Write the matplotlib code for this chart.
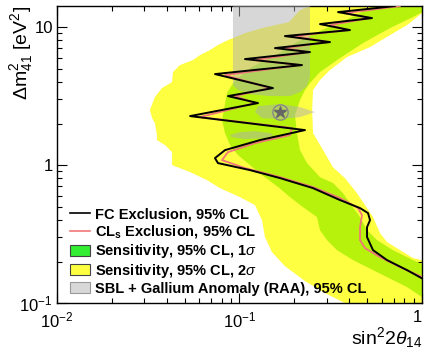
import matplotlib
matplotlib.use("Agg")
import matplotlib.pyplot as plt
from matplotlib.lines import Line2D
from matplotlib.patches import Patch
from matplotlib.ticker import FixedLocator, FixedFormatter, LogLocator, NullFormatter

plt.rcParams["font.family"] = "Liberation Sans"
plt.rcParams["mathtext.fontset"] = "custom"
plt.rcParams["mathtext.rm"] = "Liberation Sans"
plt.rcParams["mathtext.it"] = "Liberation Sans:italic"
plt.rcParams["mathtext.bf"] = "Liberation Sans:bold"

YELLOW = "#ffff42"
GREEN_FILL = "#b6f20c"
GREEN_LEG = "#33ee33"
GRAY = "#b0b0b0"
RED = "#f07878"

# 2 sigma sensitivity band (closed contour)
band2_s = [0.313, 0.2145, 0.1867, 0.1328, 0.1072, 0.0921, 0.0865, 0.0762, 0.0689, 0.0608,
           0.0556, 0.0472, 0.0432, 0.0427, 0.0376, 0.0344, 0.0323, 0.0332, 0.0344, 0.0353,
           0.0353, 0.0391, 0.0427, 0.0427, 0.0536, 0.0664, 0.0782, 0.1006, 0.1216, 0.1328,
           0.1379, 0.1507, 0.1775, 0.2285, 0.294, 0.378, 0.43, 1.1, 1.1, 0.893,
           0.758, 0.643, 0.589, 0.539, 0.487, 0.440, 0.378, 0.325, 0.287, 0.253,
           0.250, 0.253, 0.276, 0.313, 0.388, 0.519, 0.668, 0.828, 1.0, 1.1, 1.1]
band2_m = [16, 13.28, 10.87, 9.835, 9.048, 8.324, 8.05, 7.406, 6.812, 6.268,
           5.767, 5.304, 4.72, 3.994, 3.614, 3.11, 2.504, 2.191, 2.015, 1.65,
           1.518, 1.396, 1.242, 1.0, 0.89, 0.778, 0.681, 0.586, 0.513, 0.399,
           0.301, 0.234, 0.185, 0.1444, 0.1182, 0.1, 0.09, 0.09, 0.198, 0.212,
           0.242, 0.277, 0.321, 0.42, 0.513, 0.627, 0.805, 0.965, 1.284, 1.706,
           2.504, 3.495, 4.13, 4.88, 6.062, 7.163, 8.75, 10.34, 12.63, 12.63, 16]

# 1 sigma sensitivity band (closed contour)
band1_s = [0.625, 0.5125, 0.4134, 0.2831, 0.2014, 0.1646, 0.1171, 0.0945, 0.0854, 0.0822,
           0.0802, 0.0833, 0.0887, 0.0981, 0.1141, 0.1328, 0.163, 0.1891, 0.2228, 0.2658,
           0.276, 0.3015, 0.3421, 0.4187, 0.4997, 0.6428, 0.8275, 1.0, 1.1, 1.1,
           0.893, 0.693, 0.567, 0.4997, 0.4575, 0.4031, 0.369, 0.3253, 0.276, 0.2344,
           0.2145, 0.2065, 0.2014, 0.2145, 0.2285, 0.2433, 0.276, 0.3553, 0.4751, 0.6677,
           0.8928, 1.0, 1.1, 1.1]
band1_m = [16, 13.73, 11.82, 9.513, 7.657, 6.48, 5.13, 4.13, 3.325, 2.504,
           2.119, 1.706, 1.396, 1.182, 1.0, 0.846, 0.693, 0.586, 0.496, 0.42,
           0.338, 0.286, 0.242, 0.205, 0.1823, 0.1543, 0.1306, 0.1105, 0.105, 0.1823,
           0.205, 0.242, 0.286, 0.338, 0.42, 0.53, 0.627, 0.741, 0.818, 1.034,
           1.284, 1.706, 2.303, 2.958, 3.495, 3.929, 4.72, 5.962, 7.657, 9.835,
           11.82, 12.84, 12.84, 16]

# SBL + Gallium anomaly allowed regions
raa_main_s = [0.0921, 0.2433, 0.2433, 0.2344, 0.2145, 0.1891, 0.1469, 0.1141, 0.0981, 0.0921]
raa_main_m = [16, 16, 4.342, 3.736, 3.381, 3.162, 3.162, 3.269, 3.495, 3.80]
raa_lobe_s = [0.1263, 0.1667, 0.2145, 0.2592, 0.2145, 0.1667, 0.1328, 0.1216]
raa_lobe_m = [2.677, 2.767, 2.633, 2.422, 2.227, 2.154, 2.191, 2.422]
raa_isle_s = [0.0887, 0.1006, 0.1216, 0.1469, 0.154, 0.1379, 0.1072, 0.0904]
raa_isle_m = [1.65, 1.734, 1.763, 1.706, 1.65, 1.569, 1.543, 1.595]
best_s, best_m = 0.1667, 2.422

# FC exclusion contour
fc_s = [0.758, 0.711, 0.3465, 0.5322, 0.276, 0.4031, 0.1775, 0.3132, 0.1565, 0.2433,
        0.1072, 0.22, 0.0734, 0.1526, 0.0865, 0.1263, 0.0536, 0.2285, 0.1295, 0.0833,
        0.0734, 0.0762, 0.1141, 0.1667, 0.2527, 0.3553, 0.4575, 0.506, 0.519, 0.4997,
        0.4997, 0.5389, 0.6428, 0.8275, 1.04]
fc_m = [16, 14.2, 12.84, 11.62, 10.51, 9.513, 8.606, 7.786, 7.044, 6.589,
        5.863, 5.304, 4.565, 3.614, 3.162, 2.814, 2.265, 1.793, 1.518, 1.284,
        1.124, 1.034, 0.92, 0.805, 0.681, 0.558, 0.488, 0.449, 0.399, 0.355,
        0.301, 0.242, 0.205, 0.1734, 0.1468]

# CLs exclusion contour
cls_s = [0.80, 0.758, 0.3784, 0.519, 0.3132, 0.393, 0.2014, 0.3054, 0.1775, 0.2372,
         0.1216, 0.2145, 0.0833, 0.1469, 0.0945, 0.1216, 0.0608, 0.194, 0.1891, 0.1216,
         0.0865, 0.0802, 0.1072, 0.1667, 0.2527, 0.3553, 0.446, 0.4691, 0.4575, 0.4575,
         0.4873, 0.5886, 0.7577, 1.04]
cls_m = [16, 14.2, 12.63, 11.62, 10.34, 9.513, 8.606, 7.786, 7.044, 6.589,
         5.767, 5.304, 4.49, 3.614, 3.162, 2.814, 2.227, 1.854, 1.65, 1.443,
         1.242, 1.087, 0.951, 0.818, 0.693, 0.577, 0.488, 0.434, 0.355, 0.286,
         0.25, 0.2154, 0.1823, 0.151]

labels = ["FC Exclusion, 95% CL",
          r"CL$_{\mathbf{s}}$ Exclusion, 95% CL",
          r"Sensitivity, 95% CL, 1$\sigma$",
          r"Sensitivity, 95% CL, 2$\sigma$",
          "SBL + Gallium Anomaly (RAA), 95% CL"]

fig = plt.figure(figsize=(4.25, 3.57), dpi=100)
ax = fig.add_axes([0.134, 0.151, 0.859, 0.832])

ax.fill(band2_s, band2_m, color=YELLOW, lw=0, zorder=1)
ax.fill(band1_s, band1_m, color=GREEN_FILL, lw=0, zorder=2)
for xs, ys in [(raa_main_s, raa_main_m), (raa_lobe_s, raa_lobe_m), (raa_isle_s, raa_isle_m)]:
    ax.fill(xs, ys, color=GRAY, alpha=0.5, lw=0, zorder=3)
ax.plot(cls_s, cls_m, color=RED, lw=1.3, zorder=4)
ax.plot(fc_s, fc_m, color="black", lw=1.4, zorder=5)
ax.plot(best_s, best_m, marker="o", ms=11, mfc="none", mec="#888888", mew=1.0, zorder=6)
ax.plot(best_s, best_m, marker="*", ms=9, color="#666666", zorder=6)

ax.set_xscale("log")
ax.set_yscale("log")
ax.set_xlim(0.01, 1)
ax.set_ylim(0.1, 14.2)

ax.xaxis.set_major_locator(FixedLocator([0.01, 0.1, 1]))
ax.xaxis.set_major_formatter(FixedFormatter([r"$10^{-2}$", r"$10^{-1}$", "1"]))
ax.yaxis.set_major_locator(FixedLocator([0.1, 1, 10]))
ax.yaxis.set_major_formatter(FixedFormatter([r"$10^{-1}$", "1", "10"]))
for a in (ax.xaxis, ax.yaxis):
    a.set_minor_locator(LogLocator(base=10, subs=range(2, 10)))
    a.set_minor_formatter(NullFormatter())
ax.tick_params(which="both", direction="in", top=True, right=True, labelsize=12, width=0.8)
ax.tick_params(which="major", length=7)
ax.tick_params(which="minor", length=3.5)
ax.tick_params(axis="x", pad=5)
ax.tick_params(axis="y", pad=3)
for sp in ax.spines.values():
    sp.set_linewidth(1.0)
# keep the last x tick label inside the canvas
fig.canvas.draw()
ax.get_xticklabels()[-1].set_horizontalalignment("right")

ax.set_xlabel(r"sin$^{2}$2$\theta_{14}$", fontsize=14, loc="right")
ax.xaxis.set_label_coords(1.0, -0.075)
ax.set_ylabel(r"$\Delta$m$^{2}_{41}$ [eV$^{2}$]", fontsize=14, loc="top")
ax.yaxis.set_label_coords(-0.06, 1.0)

handles = [Line2D([], [], color="black", lw=1.2),
           Line2D([], [], color=RED, lw=1.2),
           Patch(facecolor=GREEN_LEG, edgecolor="#444444", lw=0.8),
           Patch(facecolor=YELLOW, edgecolor="#444444", lw=0.8),
           Patch(facecolor="#d8d8d8", edgecolor="#999999", lw=0.8)]
ax.legend(handles, labels, loc="lower left", bbox_to_anchor=(0.035, 0.025), frameon=False,
          prop={"weight": "bold", "size": 10.5}, handlelength=1.4, handleheight=0.8,
          handletextpad=0.35, labelspacing=0.12, borderpad=0, borderaxespad=0)

fig.savefig("out.png", dpi=100)
